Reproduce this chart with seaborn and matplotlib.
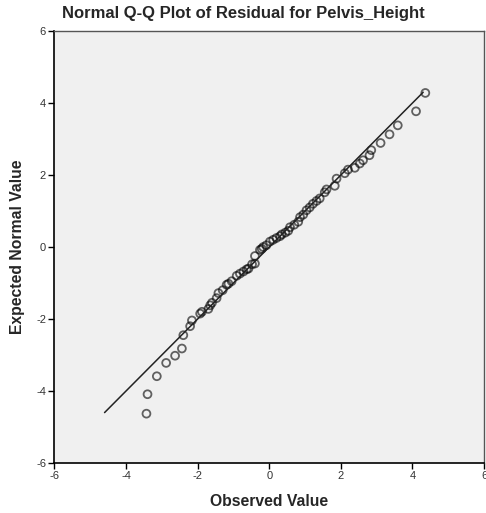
import matplotlib
matplotlib.use("Agg")
import matplotlib.pyplot as plt
import seaborn as sns
import pandas as pd

observed = [-3.43, -3.40, -3.14, -2.88, -2.63, -2.44, -2.40, -2.21, -2.16, -1.93,
            -1.88, -1.70, -1.65, -1.60, -1.47, -1.42, -1.30, -1.19, -1.14, -1.05,
            -0.91, -0.82, -0.72, -0.63, -0.58, -0.48, -0.40, -0.40, -0.26, -0.21,
            -0.17, -0.08, 0.02, 0.11, 0.20, 0.30, 0.35, 0.45, 0.53, 0.58,
            0.70, 0.81, 0.86, 0.95, 1.04, 1.13, 1.22, 1.32, 1.41, 1.55,
            1.60, 1.83, 1.88, 2.11, 2.20, 2.39, 2.53, 2.62, 2.80, 2.85,
            3.11, 3.36, 3.59, 4.10, 4.36]
expected = [-4.63, -4.09, -3.59, -3.22, -3.02, -2.82, -2.45, -2.20, -2.04, -1.85,
            -1.80, -1.72, -1.62, -1.55, -1.42, -1.28, -1.20, -1.05, -1.02, -0.95,
            -0.80, -0.74, -0.68, -0.62, -0.60, -0.48, -0.46, -0.25, -0.08, -0.05,
            0.00, 0.05, 0.15, 0.20, 0.25, 0.30, 0.35, 0.40, 0.45, 0.55,
            0.62, 0.70, 0.83, 0.90, 1.02, 1.10, 1.20, 1.28, 1.35, 1.52,
            1.60, 1.70, 1.90, 2.05, 2.15, 2.20, 2.32, 2.41, 2.55, 2.69,
            2.89, 3.13, 3.38, 3.77, 4.28]
line_ends = [-4.6, 4.3]
ticks = [-6, -4, -2, 0, 2, 4, 6]

sns.set_style("white")
plt.rcParams['font.family'] = ['Liberation Sans', 'DejaVu Sans']

fig = plt.figure(figsize=(4.86, 5.13), dpi=100)
ax = fig.add_axes([0.112, 0.0975, 0.884, 0.842])
ax.set_facecolor("#F0F0F0")

df = pd.DataFrame({"Observed Value": observed, "Expected Normal Value": expected})
line_df = pd.DataFrame({"x": line_ends, "y": line_ends})

sns.lineplot(data=line_df, x="x", y="y", ax=ax, color="#222222", linewidth=1.1)
sns.scatterplot(data=df, x="Observed Value", y="Expected Normal Value", ax=ax,
                marker="o", s=32, facecolor="none", edgecolor="black",
                linewidth=1.3, alpha=0.6)

ax.set_xlim(-6, 6)
ax.set_ylim(-6, 6)
ax.set_xticks(ticks)
ax.set_yticks(ticks)
ax.set_xticklabels([str(t) for t in ticks])
ax.set_yticklabels([str(t) for t in ticks])
ax.tick_params(axis="both", direction="out", length=4, width=1, color="black",
               labelsize=8, labelcolor="#333333", pad=2)
ax.tick_params(left=True, bottom=True)

for side in ["left", "bottom"]:
    ax.spines[side].set_color("black")
    ax.spines[side].set_linewidth(1.2)
for side in ["top", "right"]:
    ax.spines[side].set_color("#555555")
    ax.spines[side].set_linewidth(1.0)

ax.set_xlabel("Observed Value", fontsize=11.3, fontweight="bold", labelpad=9)
ax.set_ylabel("Expected Normal Value", fontsize=11.3, fontweight="bold", labelpad=8)
fig.text(0.5, 0.974, "Normal Q-Q Plot of Residual for Pelvis_Height",
         ha="center", va="center", fontsize=12, fontweight="bold")

fig.savefig("out.png", dpi=100)
